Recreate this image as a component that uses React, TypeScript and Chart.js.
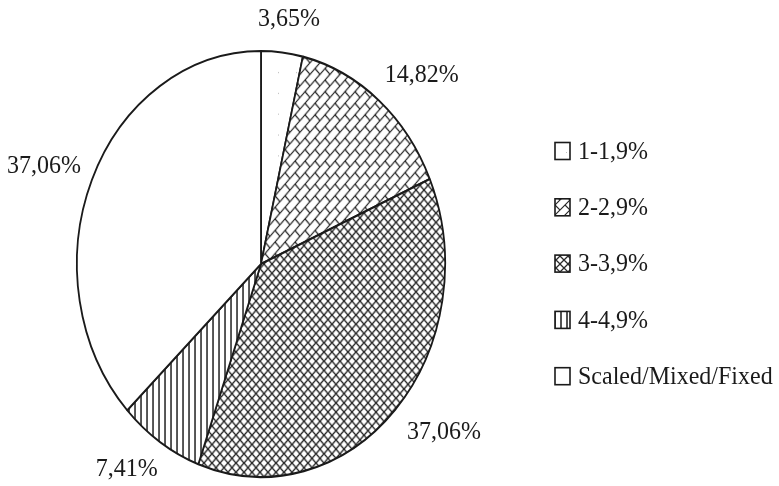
import React, { useEffect, useRef } from "react";
import { Chart, registerables } from "chart.js";

Chart.register(...registerables);

// Categories and shares (percent)
const categories = ["1-1,9%", "2-2,9%", "3-3,9%", "4-4,9%", "Scaled/Mixed/Fixed"];
const shares = [3.65, 14.82, 37.06, 7.41, 37.06];
// Fill style per category
const fillKinds = ["dots", "brick", "cross", "vertical", "plain"];

const WIDTH = 779;
const HEIGHT = 486;
const FONT = '24px "Liberation Serif", "Times New Roman", serif';
const INK = "#1a1a1a";
// vertical stretch of the pie (ellipse ry / rx)
const STRETCH = 214 / 185;
// slight vertical stretch of the lettering
const TEXT_STRETCH = 1.06;

function makePattern(kind: string): CanvasPattern | string {
  if (kind === "plain") return "#ffffff";
  const c = document.createElement("canvas");
  const g = c.getContext("2d")!;
  let s = 8;
  if (kind === "dots") {
    s = 18;
    c.width = s;
    c.height = s;
    g.fillStyle = "#fff";
    g.fillRect(0, 0, s, s);
    g.fillStyle = "rgba(110,110,110,0.45)";
    g.fillRect(8, 8, 1, 1);
  } else if (kind === "brick") {
    s = 10;
    c.width = s;
    c.height = s;
    g.fillStyle = "#fff";
    g.fillRect(0, 0, s, s);
    g.strokeStyle = "#2a2a2a";
    g.lineWidth = 1.2;
    g.beginPath();
    g.moveTo(0, s);
    g.lineTo(s, 0);
    g.moveTo(-2, 2);
    g.lineTo(2, -2);
    g.moveTo(s - 2, s + 2);
    g.lineTo(s + 2, s - 2);
    g.moveTo(s / 2, s / 2);
    g.lineTo(s, s);
    g.stroke();
  } else if (kind === "cross") {
    s = 8;
    c.width = s;
    c.height = s;
    g.fillStyle = "#fff";
    g.fillRect(0, 0, s, s);
    g.strokeStyle = "#2a2a2a";
    g.lineWidth = 1.25;
    g.beginPath();
    g.moveTo(0, 0);
    g.lineTo(s, s);
    g.moveTo(0, s);
    g.lineTo(s, 0);
    g.stroke();
  } else if (kind === "vertical") {
    s = 6;
    c.width = s;
    c.height = s;
    g.fillStyle = "#fff";
    g.fillRect(0, 0, s, s);
    g.strokeStyle = "#1a1a1a";
    g.lineWidth = 1.5;
    g.beginPath();
    g.moveTo(3, 0);
    g.lineTo(3, s);
    g.stroke();
  }
  return g.createPattern(c, "repeat")!;
}

function formatShare(v: number): string {
  return v.toFixed(2).replace(".", ",") + "%";
}

function drawText(ctx: CanvasRenderingContext2D, text: string, x: number, y: number) {
  ctx.save();
  ctx.translate(x, y);
  ctx.scale(1, TEXT_STRETCH);
  ctx.fillText(text, 0, 0);
  ctx.restore();
}

const ellipsePie = {
  id: "ellipsePie",
  beforeDatasetsDraw(chart: any) {
    const { ctx, chartArea } = chart;
    const cx = (chartArea.left + chartArea.right) / 2;
    const cy = (chartArea.top + chartArea.bottom) / 2;
    ctx.save();
    ctx.translate(cx, cy);
    ctx.scale(1, STRETCH);
    ctx.translate(-cx, -cy);
  },
  afterDatasetsDraw(chart: any) {
    const { ctx, width } = chart;
    ctx.restore();

    // value labels around the ellipse
    const meta = chart.getDatasetMeta(0);
    const values = chart.data.datasets[0].data as number[];
    ctx.save();
    ctx.font = FONT;
    ctx.fillStyle = INK;
    ctx.textAlign = "center";
    ctx.textBaseline = "middle";
    const gapX = 30;
    const gapY = 22;
    const th = 22;
    const margin = 7;
    meta.data.forEach((arc: any, i: number) => {
      const p = arc.getProps(["x", "y", "startAngle", "endAngle", "outerRadius"], true);
      const mid = (p.startAngle + p.endAngle) / 2;
      const ux = Math.cos(mid);
      const uy = Math.sin(mid);
      const rx = p.outerRadius;
      const ry = p.outerRadius * STRETCH;
      const text = formatShare(values[i]);
      const tw = ctx.measureText(text).width;
      let ax = p.x + (rx + gapX) * ux + (tw / 2) * ux;
      const ay = p.y + (ry + gapY) * uy + (th / 2) * uy;
      // keep the label inside the canvas
      ax = Math.max(margin + tw / 2, Math.min(width - margin - tw / 2, ax));
      drawText(ctx, text, ax, ay);
    });
    ctx.restore();

    // legend
    const fills = chart.data.datasets[0].backgroundColor as any[];
    const labels = chart.data.labels as string[];
    const boxX = 555;
    const boxW = 15;
    const boxH = 17;
    const firstY = 151;
    const step = 56.3;
    ctx.save();
    ctx.font = FONT;
    ctx.textAlign = "left";
    ctx.textBaseline = "middle";
    labels.forEach((lab, i) => {
      const y = firstY + i * step;
      ctx.fillStyle = fills[i];
      ctx.fillRect(boxX, y - boxH / 2, boxW, boxH);
      ctx.strokeStyle = INK;
      ctx.lineWidth = 1.6;
      ctx.strokeRect(boxX, y - boxH / 2, boxW, boxH);
      ctx.fillStyle = INK;
      drawText(ctx, lab, boxX + boxW + 8, y + 1);
    });
    ctx.restore();
  },
};

export default function App() {
  const ref = useRef<HTMLCanvasElement | null>(null);

  useEffect(() => {
    const canvas = ref.current;
    if (!canvas) return;
    const chart = new Chart(canvas, {
      type: "pie",
      data: {
        labels: categories,
        datasets: [
          {
            data: shares,
            backgroundColor: fillKinds.map(makePattern) as any,
            borderColor: INK,
            borderWidth: 1.8,
          },
        ],
      },
      options: {
        responsive: false,
        animation: false,
        devicePixelRatio: 1,
        layout: { padding: { left: 76, right: 333, top: 79, bottom: 37 } },
        plugins: {
          legend: { display: false },
          tooltip: { enabled: false },
        },
      },
      plugins: [ellipsePie],
    });
    return () => chart.destroy();
  }, []);

  return (
    <div style={{ position: "absolute", left: 0, top: 0, width: WIDTH, height: HEIGHT, background: "#fff" }}>
      <canvas ref={ref} width={WIDTH} height={HEIGHT} style={{ width: WIDTH, height: HEIGHT }} />
    </div>
  );
}
